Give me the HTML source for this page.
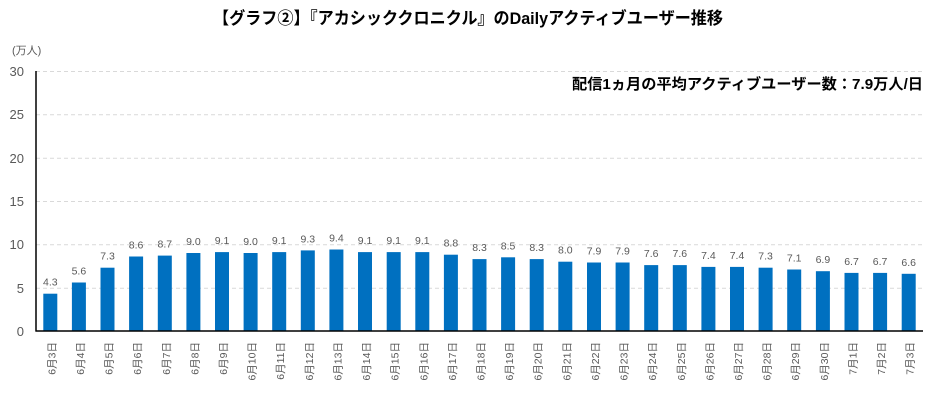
<!DOCTYPE html>
<html><head><meta charset="utf-8">
<style>
html,body{margin:0;padding:0;background:#fff;}
svg{display:block;}
text{font-family:"Liberation Sans","Noto Sans CJK JP",sans-serif;}
</style></head>
<body>
<svg width="937" height="411" viewBox="0 0 937 411" xmlns="http://www.w3.org/2000/svg">
<rect width="937" height="411" fill="#fff"/>
<text x="213" y="24" font-size="17" font-weight="bold" fill="#000" textLength="510" lengthAdjust="spacingAndGlyphs">【グラフ②】『アカシッククロニクル』のDailyアクティブユーザー推移</text>
<text x="12" y="54" font-size="11" fill="#595959">(万人)</text>
<g stroke="#d9d9d9" stroke-width="1" stroke-dasharray="4,3">
<line x1="36" y1="71.5" x2="923" y2="71.5"/>
<line x1="36" y1="114.8" x2="923" y2="114.8"/>
<line x1="36" y1="158.2" x2="923" y2="158.2"/>
<line x1="36" y1="201.5" x2="923" y2="201.5"/>
<line x1="36" y1="244.8" x2="923" y2="244.8"/>
<line x1="36" y1="288.2" x2="923" y2="288.2"/>
</g>
<g font-size="13" fill="#595959" text-anchor="end">
<text x="24" y="76">30</text>
<text x="24" y="119">25</text>
<text x="24" y="163">20</text>
<text x="24" y="206">15</text>
<text x="24" y="249">10</text>
<text x="24" y="293">5</text>
<text x="24" y="336">0</text>
</g>
<text x="572" y="89" font-size="15" font-weight="bold" fill="#000" textLength="351" lengthAdjust="spacingAndGlyphs">配信1ヵ月の平均アクティブユーザー数：7.9万人/日</text>

<g fill="#0070C0">
<rect x="43.3" y="293.7" width="14" height="37.3"/>
<rect x="71.9" y="282.5" width="14" height="48.5"/>
<rect x="100.5" y="267.7" width="14" height="63.3"/>
<rect x="129.1" y="256.5" width="14" height="74.5"/>
<rect x="157.8" y="255.6" width="14" height="75.4"/>
<rect x="186.4" y="253.0" width="14" height="78.0"/>
<rect x="215.0" y="252.1" width="14" height="78.9"/>
<rect x="243.6" y="253.0" width="14" height="78.0"/>
<rect x="272.2" y="252.1" width="14" height="78.9"/>
<rect x="300.8" y="250.4" width="14" height="80.6"/>
<rect x="329.4" y="249.5" width="14" height="81.5"/>
<rect x="358.0" y="252.1" width="14" height="78.9"/>
<rect x="386.7" y="252.1" width="14" height="78.9"/>
<rect x="415.3" y="252.1" width="14" height="78.9"/>
<rect x="443.9" y="254.7" width="14" height="76.3"/>
<rect x="472.5" y="259.1" width="14" height="71.9"/>
<rect x="501.1" y="257.3" width="14" height="73.7"/>
<rect x="529.7" y="259.1" width="14" height="71.9"/>
<rect x="558.3" y="261.7" width="14" height="69.3"/>
<rect x="587.0" y="262.5" width="14" height="68.5"/>
<rect x="615.6" y="262.5" width="14" height="68.5"/>
<rect x="644.2" y="265.1" width="14" height="65.9"/>
<rect x="672.8" y="265.1" width="14" height="65.9"/>
<rect x="701.4" y="266.9" width="14" height="64.1"/>
<rect x="730.0" y="266.9" width="14" height="64.1"/>
<rect x="758.6" y="267.7" width="14" height="63.3"/>
<rect x="787.2" y="269.5" width="14" height="61.5"/>
<rect x="815.9" y="271.2" width="14" height="59.8"/>
<rect x="844.5" y="272.9" width="14" height="58.1"/>
<rect x="873.1" y="272.9" width="14" height="58.1"/>
<rect x="901.7" y="273.8" width="14" height="57.2"/>
</g>

<g font-size="10.5" fill="#595959" text-anchor="middle">
<text x="50.3" y="285.7">4.3</text>
<text x="78.9" y="274.5">5.6</text>
<text x="107.5" y="259.7">7.3</text>
<text x="136.1" y="248.5">8.6</text>
<text x="164.8" y="247.6">8.7</text>
<text x="193.4" y="245.0">9.0</text>
<text x="222.0" y="244.1">9.1</text>
<text x="250.6" y="245.0">9.0</text>
<text x="279.2" y="244.1">9.1</text>
<text x="307.8" y="242.4">9.3</text>
<text x="336.4" y="241.5">9.4</text>
<text x="365.0" y="244.1">9.1</text>
<text x="393.7" y="244.1">9.1</text>
<text x="422.3" y="244.1">9.1</text>
<text x="450.9" y="246.7">8.8</text>
<text x="479.5" y="251.1">8.3</text>
<text x="508.1" y="249.3">8.5</text>
<text x="536.7" y="251.1">8.3</text>
<text x="565.3" y="253.7">8.0</text>
<text x="594.0" y="254.5">7.9</text>
<text x="622.6" y="254.5">7.9</text>
<text x="651.2" y="257.1">7.6</text>
<text x="679.8" y="257.1">7.6</text>
<text x="708.4" y="258.9">7.4</text>
<text x="737.0" y="258.9">7.4</text>
<text x="765.6" y="259.7">7.3</text>
<text x="794.2" y="261.5">7.1</text>
<text x="822.9" y="263.2">6.9</text>
<text x="851.5" y="264.9">6.7</text>
<text x="880.1" y="264.9">6.7</text>
<text x="908.7" y="265.8">6.6</text>
</g>

<g font-size="10.5" fill="#595959" text-anchor="end">
<text transform="translate(55.3,342) rotate(-90)">6月3日</text>
<text transform="translate(83.9,342) rotate(-90)">6月4日</text>
<text transform="translate(112.5,342) rotate(-90)">6月5日</text>
<text transform="translate(141.1,342) rotate(-90)">6月6日</text>
<text transform="translate(169.8,342) rotate(-90)">6月7日</text>
<text transform="translate(198.4,342) rotate(-90)">6月8日</text>
<text transform="translate(227.0,342) rotate(-90)">6月9日</text>
<text transform="translate(255.6,342) rotate(-90)">6月10日</text>
<text transform="translate(284.2,342) rotate(-90)">6月11日</text>
<text transform="translate(312.8,342) rotate(-90)">6月12日</text>
<text transform="translate(341.4,342) rotate(-90)">6月13日</text>
<text transform="translate(370.0,342) rotate(-90)">6月14日</text>
<text transform="translate(398.7,342) rotate(-90)">6月15日</text>
<text transform="translate(427.3,342) rotate(-90)">6月16日</text>
<text transform="translate(455.9,342) rotate(-90)">6月17日</text>
<text transform="translate(484.5,342) rotate(-90)">6月18日</text>
<text transform="translate(513.1,342) rotate(-90)">6月19日</text>
<text transform="translate(541.7,342) rotate(-90)">6月20日</text>
<text transform="translate(570.3,342) rotate(-90)">6月21日</text>
<text transform="translate(599.0,342) rotate(-90)">6月22日</text>
<text transform="translate(627.6,342) rotate(-90)">6月23日</text>
<text transform="translate(656.2,342) rotate(-90)">6月24日</text>
<text transform="translate(684.8,342) rotate(-90)">6月25日</text>
<text transform="translate(713.4,342) rotate(-90)">6月26日</text>
<text transform="translate(742.0,342) rotate(-90)">6月27日</text>
<text transform="translate(770.6,342) rotate(-90)">6月28日</text>
<text transform="translate(799.2,342) rotate(-90)">6月29日</text>
<text transform="translate(827.9,342) rotate(-90)">6月30日</text>
<text transform="translate(856.5,342) rotate(-90)">7月1日</text>
<text transform="translate(885.1,342) rotate(-90)">7月2日</text>
<text transform="translate(913.7,342) rotate(-90)">7月3日</text>
</g>

<line x1="36" y1="71" x2="36" y2="331.5" stroke="#000" stroke-width="1.5"/>
<line x1="35.5" y1="331" x2="923" y2="331" stroke="#000" stroke-width="1.5"/>
</svg>
</body></html>
